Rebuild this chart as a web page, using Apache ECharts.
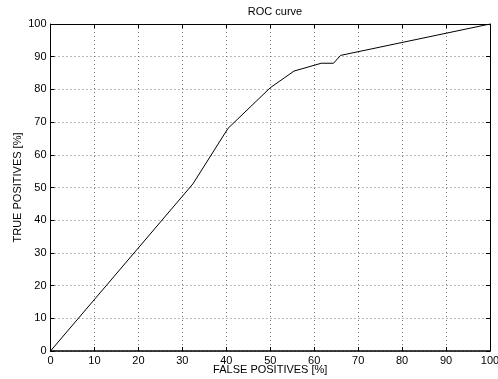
<!DOCTYPE html>
<html>
<head>
<meta charset="utf-8">
<script src="https://cdn.jsdelivr.net/npm/echarts@6/dist/echarts.min.js"></script>
<style>
  html, body { margin: 0; padding: 0; background: #fff; }
  #main { width: 498px; height: 379px; }
</style>
</head>
<body>
<div id="main"></div>
<script>
// ROC curve points
var falsePos = [0, 32.4, 40.4, 50, 55.4, 61.6, 64.4, 66, 100];
var truePos  = [0, 51.1, 68.1, 80.5, 85.6, 88.0, 88.0, 90.4, 100];
var tickStep = 10;

var chart = echarts.init(document.getElementById('main'));

var points = [];
for (var i = 0; i < falsePos.length; i++) {
  points.push([falsePos[i], truePos[i]]);
}

var font = 'Liberation Sans, Arial, sans-serif';

function axisBase(show) {
  return {
    type: 'value',
    min: 0,
    max: 100,
    interval: tickStep,
    axisLine: { show: true, onZero: false, lineStyle: { color: '#000', width: 1 } },
    axisTick: { show: true, inside: true, length: 4, lineStyle: { color: '#000' } },
    axisLabel: { show: show, color: '#000', fontSize: 11, fontFamily: font },
    splitLine: { show: false }
  };
}

var xMain = axisBase(true);
xMain.position = 'bottom';
xMain.name = 'FALSE POSITIVES [%]';
xMain.nameLocation = 'middle';
xMain.nameGap = 13;
xMain.nameMoveOverlap = false;
xMain.nameTextStyle = { color: '#000', fontSize: 11, fontFamily: font };
xMain.axisLabel.margin = 4;
xMain.axisLine.lineStyle.width = 1.5;
xMain.splitLine = { show: true, lineStyle: { color: '#777', type: [1, 3], width: 1 } };

var xTop = axisBase(false);
xTop.position = 'top';

var yMain = axisBase(true);
yMain.position = 'left';
yMain.name = 'TRUE POSITIVES [%]';
yMain.nameLocation = 'middle';
yMain.nameGap = 27;
yMain.nameMoveOverlap = false;
yMain.nameTextStyle = { color: '#000', fontSize: 11, fontFamily: font };
yMain.axisLabel.margin = 4;
yMain.splitLine = { show: true, lineStyle: { color: '#777', type: [1, 3], width: 1 } };

var yRight = axisBase(false);
yRight.position = 'right';

var option = {
  animation: false,
  backgroundColor: '#fff',
  title: {
    text: 'ROC curve',
    left: 270,
    textAlign: 'center',
    top: 1,
    textStyle: { color: '#000', fontSize: 11, fontWeight: 'normal', fontFamily: font }
  },
  grid: { left: 50.5, right: 8, top: 24, bottom: 28, containLabel: false, outerBoundsMode: 'none' },
  xAxis: [xMain, xTop],
  yAxis: [yMain, yRight],
  series: [{
    type: 'line',
    data: points,
    symbol: 'none',
    lineStyle: { color: '#000', width: 1 }
  }]
};

chart.setOption(option);
</script>
</body>
</html>
